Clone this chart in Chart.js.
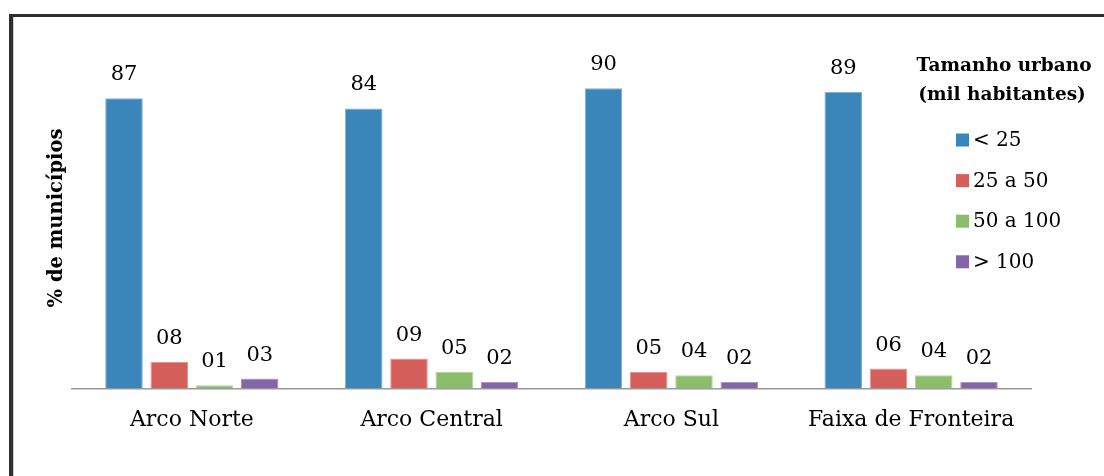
<!DOCTYPE html>
<html>
<head>
<meta charset="utf-8">
<script src="https://cdn.jsdelivr.net/npm/chart.js@4.4.0/dist/chart.umd.min.js"></script>
<style>
    html, body { margin: 0; padding: 0; background: #fff; }
    canvas { display: block; }
</style>
</head>
<body>
<canvas id="chart" width="1104" height="476"></canvas>
<script>
// Data
const categories = ['Arco Norte', 'Arco Central', 'Arco Sul', 'Faixa de Fronteira'];
const seriesLabels = ['< 25', '25 a 50', '50 a 100', '> 100'];
const under25 = [87, 84, 90, 89];
const from25to50 = [8, 9, 5, 6];
const from50to100 = [1, 5, 4, 4];
const over100 = [3, 2, 2, 2];
const legendTitle = ['Tamanho urbano', '(mil habitantes)'];
const yTitle = '% de municípios';

const colors = ['#3a85b9', '#d55f5b', '#8bbe6a', '#8266a8'];
const edges = ['#7fb0d3', '#e8948f', '#b5d79f', '#a996c6'];
const FONT = "'DejaVu Serif', 'Liberation Serif', serif";

// Frame, y title and legend drawn on the canvas
const decorPlugin = {
    id: 'decor',
    beforeDraw(chart) {
        const ctx = chart.ctx;
        ctx.save();
        ctx.fillStyle = '#fff';
        ctx.fillRect(0, 0, chart.width, chart.height);
        ctx.fillStyle = '#d0d0d0';
        ctx.fillRect(13, 17, 1, chart.height);
        ctx.fillStyle = '#2e2e2e';
        ctx.fillRect(9, 14, 4, chart.height);
        ctx.fillRect(9, 14, chart.width, 3);
        ctx.restore();
    },
    afterDraw(chart) {
        const ctx = chart.ctx;
        ctx.save();
        ctx.fillStyle = '#000';

        // y axis title
        ctx.translate(57, 218);
        ctx.rotate(-Math.PI / 2);
        ctx.font = 'bold 19.5px ' + FONT;
        ctx.textAlign = 'center';
        ctx.textBaseline = 'middle';
        ctx.fillText(yTitle, 0, 0);
        ctx.setTransform(1, 0, 0, 1, 0, 0);

        // legend title
        ctx.font = 'bold 18.5px ' + FONT;
        ctx.textAlign = 'center';
        ctx.textBaseline = 'alphabetic';
        ctx.fillText(legendTitle[0], 1004, 71);
        ctx.fillText(legendTitle[1], 1002, 100);

        // legend items
        ctx.font = '20px ' + FONT;
        ctx.textAlign = 'left';
        ctx.textBaseline = 'middle';
        chart.data.datasets.forEach((ds, i) => {
            const cy = 140 + i * 40.6;
            ctx.fillStyle = ds.backgroundColor;
            ctx.fillRect(956, cy - 6.5, 13, 13);
            ctx.fillStyle = '#000';
            ctx.fillText(ds.label, 973, cy + 1);
        });
        ctx.restore();
    },
    afterDatasetsDraw(chart) {
        const ctx = chart.ctx;
        ctx.save();
        ctx.font = '21px ' + FONT;
        ctx.fillStyle = '#000';
        ctx.textAlign = 'center';
        ctx.textBaseline = 'alphabetic';
        chart.data.datasets.forEach((ds, i) => {
            chart.getDatasetMeta(i).data.forEach((bar, j) => {
                const label = String(ds.data[j]).padStart(2, '0');
                ctx.fillText(label, bar.x, bar.y - 18);
            });
        });
        ctx.restore();
    }
};

const seriesData = [under25, from25to50, from50to100, over100];

new Chart(document.getElementById('chart'), {
    type: 'bar',
    data: {
        labels: categories,
        datasets: seriesData.map((values, i) => ({
            label: seriesLabels[i],
            data: values,
            backgroundColor: colors[i],
            borderColor: edges[i],
            borderWidth: 1,
            categoryPercentage: 0.755,
            barPercentage: 0.83
        }))
    },
    options: {
        responsive: false,
        animation: false,
        devicePixelRatio: 1,
        layout: { padding: { left: 72, right: 73, top: 55, bottom: 25 } },
        plugins: {
            legend: { display: false },
            tooltip: { enabled: false }
        },
        scales: {
            y: { display: false, min: 0, max: 100 },
            x: {
                grid: { display: false, drawTicks: false },
                border: { display: true, color: '#9a9a9a', width: 1.5 },
                ticks: {
                    color: '#000',
                    padding: 18,
                    font: { family: FONT, size: 22 }
                }
            }
        }
    },
    plugins: [decorPlugin]
});
</script>
</body>
</html>
